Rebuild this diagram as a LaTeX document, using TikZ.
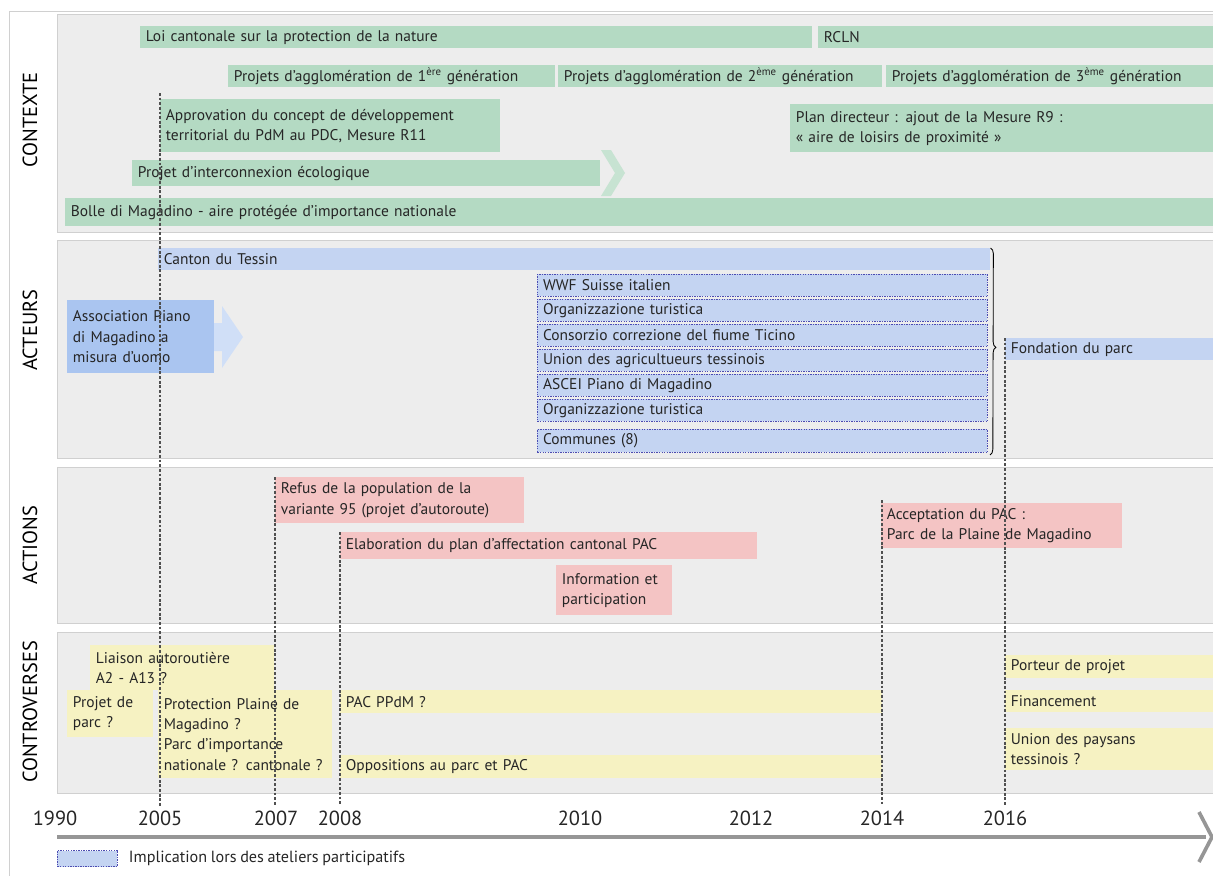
\documentclass[tikz,border=0pt]{standalone}
\usepackage{fontspec}
\setmainfont{PT Sans}[WordSpace=0.85]
\usepackage{tikz}
\usetikzlibrary{positioning,decorations.pathreplacing}
\definecolor{panelgray}{RGB}{237,237,237}
\definecolor{panelline}{RGB}{208,208,208}
\definecolor{ctxgreen}{RGB}{180,218,195}
\definecolor{actblue}{RGB}{196,212,242}
\definecolor{assocblue}{RGB}{170,197,240}
\definecolor{actionpink}{RGB}{244,196,196}
\definecolor{controyellow}{RGB}{246,242,194}
\definecolor{guidegray}{RGB}{80,80,80}
\definecolor{axisgray}{RGB}{150,150,150}

\begin{document}
\begin{tikzpicture}[x=0.025cm,y=-0.025cm,
    bar/.style 2 args={anchor=north west, inner xsep=4pt, inner ysep=0pt,
        text width=(#1)*0.025cm-8pt, minimum height=(#2)*0.025cm, align=left,
        font=\fontsize{11}{14.5}\selectfont, text=black!85},
    ctx/.style={fill=ctxgreen},
    act/.style={fill=actblue},
    atelier/.style={fill=actblue, draw=gray!60!blue, line width=0.7pt,
        dash pattern=on 1pt off 0.8pt},
    action/.style={fill=actionpink},
    contro/.style={fill=controyellow},
    panel/.style={fill=panelgray, draw=panelline, line width=0.6pt},
    lane/.style={rotate=90, font=\fontsize{14.5}{16}\selectfont},
    year/.style={font=\fontsize{14.5}{16}\selectfont, text=black!85},
    guide/.style={draw=guidegray, line width=1.1pt, dash pattern=on 2pt off 1.3pt}]
    \useasboundingbox (0,0) rectangle (1213,876);

    % frame and lanes
    \draw[panelline, line width=0.6pt] (9,876) |- (1213,11);
    \path[panel] (57,14) rectangle (1220,232);
    \path[panel] (57,240) rectangle (1220,458);
    \path[panel] (57,467) rectangle (1220,623);
    \path[panel] (57,632) rectangle (1220,793);
    \node[lane] (lctx) at (30,120) {CONTEXTE};
    \node[lane] (lact) at (30,330) {ACTEURS};
    \node[lane] (laction) at (30,545) {ACTIONS};
    \node[lane] (lcontro) at (30,712) {CONTROVERSES};

    % contexte
    \node[ctx, bar={812-140}{22}] (loi) at (140,26) {Loi cantonale sur la protection de la nature};
    \node[ctx, bar={1213-818}{22}] (rcln) at (818,26) {RCLN};
    \node[ctx, bar={555-228}{22}] (agglo1) at (228,65) {Projets d’agglomération de 1\textsuperscript{ère} génération};
    \node[ctx, bar={882-558}{22}] (agglo2) at (558,65) {Projets d’agglomération de 2\textsuperscript{ème} génération};
    \node[ctx, bar={1213-886}{22}] (agglo3) at (886,65) {Projets d’agglomération de 3\textsuperscript{ème} génération};
    \node[ctx, bar={500-160}{53}] (approv) at (160,99) {Approvation du concept de développement\\territorial du PdM au PDC, Mesure R11};
    \node[ctx, bar={1213-790}{48}] (plandir) at (790,104) {Plan directeur : ajout de la Mesure R9 :\\«~aire de loisirs de proximité~»};
    \fill[ctxgreen!75] (601,150) -- (611,150) -- (625,173) -- (611,196) -- (601,196) -- (615,173) -- cycle;
    \node[ctx, bar={600-132}{26}] (interco) at (132,160) {Projet d’interconnexion écologique};
    \node[ctx, bar={1213-65}{28}] (bolle) at (65,198) {Bolle di Magadino - aire protégée d’importance nationale};

    % acteurs
    \node[act, bar={990-158}{22}] (canton) at (158,248) {Canton du Tessin};
    \fill[assocblue!55] (205,323) -- (222,323) -- (222,306) -- (243,337) -- (222,368) -- (222,351) -- (205,351) -- cycle;
    \node[fill=assocblue, bar={214-67}{73}] (assoc) at (67,300) {Association Piano\\di Magadino a\\misura d’uomo};
    \node[atelier, bar={987-537}{22}] (wwf) at (537,274) {WWF Suisse italien};
    \node[atelier, bar={987-537}{22}] (orga1) at (537,299) {Organizzazione turistica};
    \node[atelier, bar={987-537}{22}] (consorzio) at (537,324) {Consorzio correzione del fiume Ticino};
    \node[atelier, bar={987-537}{22}] (union) at (537,349) {Union des agricultueurs tessinois};
    \node[atelier, bar={987-537}{22}] (ascei) at (537,374) {ASCEI Piano di Magadino};
    \node[atelier, bar={987-537}{22}] (orga2) at (537,399) {Organizzazione turistica};
    \node[atelier, bar={987-537}{23}] (communes) at (537,429) {Communes (8)};
    \coordinate (bracebot) at (990,455);
    \draw[black, line width=0.6pt, decorate, decoration={brace, amplitude=4pt, aspect=0.48}]
        (canton.north east) -- (bracebot);
    \node[act, bar={1213-1005}{22}] (fondation) at (1005,338) {Fondation du parc};

    % actions
    \node[action, bar={524-275}{46}] (refus) at (275,477) {Refus de la population de la\\variante 95 (projet d’autoroute)};
    \node[action, bar={757-340}{27}] (elab) at (340,532) {Elaboration du plan d’affectation cantonal PAC};
    \node[action, bar={672-556}{50}] (info) at (556,565) {Information et\\participation};
    \node[action, bar={1122-881}{45}] (accept) at (881,503) {Acceptation du PAC :\\Parc de la Plaine de Magadino};

    % controverses
    \node[contro, bar={274-90}{45}] (liaison) at (90,645) {Liaison autoroutière\\A2 - A13 ?};
    \node[contro, bar={153-67}{47}] (projparc) at (67,690) {Projet de\\parc ?};
    \node[contro, bar={332-158}{88}] (protect) at (158,690) {Protection Plaine de\\Magadino ?\\Parc d’importance\\nationale ? cantonale ?};
    \node[contro, bar={882-340}{23}] (pacppdm) at (340,690) {PAC PPdM ?};
    \node[contro, bar={882-340}{23}] (opp) at (340,755) {Oppositions au parc et PAC};
    \node[contro, bar={1213-1005}{23}] (porteur) at (1005,655) {Porteur de projet};
    \node[contro, bar={1213-1005}{22}] (finance) at (1005,690) {Financement};
    \node[contro, bar={1213-1005}{42}] (paysans) at (1005,728) {Union des paysans\\tessinois ?};

    % time axis
    \node[year] (y1990) at (55,818) {1990};
    \node[year] (y2005) at (160,818) {2005};
    \node[year] (y2007) at (276,818) {2007};
    \node[year] (y2008) at (340,818) {2008};
    \node[year] (y2010) at (580,818) {2010};
    \node[year] (y2012) at (751,818) {2012};
    \node[year] (y2014) at (882,818) {2014};
    \node[year] (y2016) at (1005,818) {2016};
    \coordinate (axstart) at (57,837);
    \coordinate (axend) at (1206,837);
    \draw[axisgray, line width=2.6pt] (axstart) -- (axend);
    \draw[axisgray, line width=2.6pt] (1199,812) -- (1212,837) -- (1199,862);

    % guides
    \coordinate (g2005) at (160,93);
    \draw[guide] (g2005) -- (g2005 |- y2005.north);
    \draw[guide] (refus.north west) -- (refus.north west |- y2007.north);
    \draw[guide] (elab.north west) -- (elab.north west |- y2008.north);
    \coordinate (g2014) at (882,500);
    \draw[guide] (g2014) -- (g2014 |- y2014.north);
    \draw[guide] (fondation.north west) -- (fondation.north west |- y2016.north);

    % legend
    \node[atelier, anchor=north west, minimum width=60*0.025cm, minimum height=16*0.025cm,
          inner sep=0pt] (legbox) at (57,850) {};
    \node[right=0.15cm of legbox, font=\fontsize{11.5}{13}\selectfont, text=black!85] (legtext)
        {Implication lors des ateliers participatifs};
\end{tikzpicture}
\end{document}
